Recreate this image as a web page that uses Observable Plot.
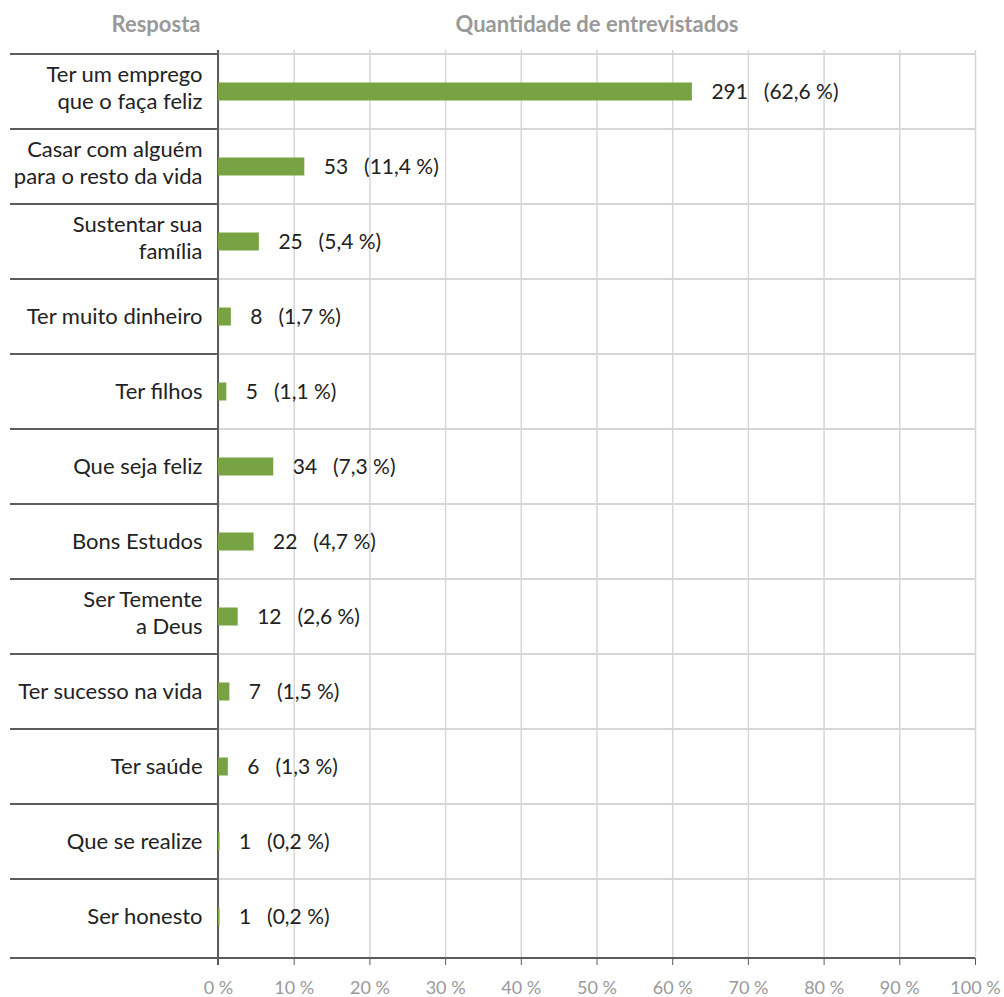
<!DOCTYPE html>
<html>
<head>
<meta charset="utf-8">
<script src="https://cdn.jsdelivr.net/npm/d3@7"></script>
<script src="https://cdn.jsdelivr.net/npm/@observablehq/plot@0.6"></script>
<style>
  html, body { margin: 0; padding: 0; background: #fff; }
</style>
</head>
<body>
<div id="chart"></div>
<script>
// ---- data ----
const categories = [
  "Ter um emprego\nque o faça feliz",
  "Casar com alguém\npara o resto da vida",
  "Sustentar sua\nfamília",
  "Ter muito dinheiro",
  "Ter filhos",
  "Que seja feliz",
  "Bons Estudos",
  "Ser Temente\na Deus",
  "Ter sucesso na vida",
  "Ter saúde",
  "Que se realize",
  "Ser honesto"
];
const counts = [291, 53, 25, 8, 5, 34, 22, 12, 7, 6, 1, 1];
const percents = [62.6, 11.4, 5.4, 1.7, 1.1, 7.3, 4.7, 2.6, 1.5, 1.3, 0.2, 0.2];
const xTicks = [0, 10, 20, 30, 40, 50, 60, 70, 80, 90, 100];
const headerLeft = "Resposta";
const headerRight = "Quantidade de entrevistados";

const rows = categories.map((c, i) => ({cat: c, n: counts[i], pct: percents[i]}));
const fmtPct = v => v.toFixed(1).replace(".", ",");

const dark = "#5c5c5c";
const light = "#d6d6d6";

// custom mark: row separators and axis lines, positioned with Plot's scales
function rowLines(index, scales, values, dimensions) {
  const {width, height, marginLeft, marginRight, marginTop, marginBottom} = dimensions;
  const y = scales.y;
  const xl = marginLeft, xr = width - marginRight, yb = height - marginBottom;
  const bounds = categories.map(c => y(c));
  bounds.push(yb);
  const g = d3.create("svg:g").attr("shape-rendering", "crispEdges");
  bounds.forEach((yy, i) => {
    const last = i === bounds.length - 1;
    g.append("line").attr("x1", 10).attr("x2", xl).attr("y1", yy).attr("y2", yy)
      .attr("stroke", dark).attr("stroke-width", 1.5);
    g.append("line").attr("x1", xl).attr("x2", xr).attr("y1", yy).attr("y2", yy)
      .attr("stroke", last ? dark : light).attr("stroke-width", 1.5);
  });
  g.append("line").attr("x1", xl).attr("x2", xl).attr("y1", marginTop).attr("y2", yb + 7)
    .attr("stroke", dark).attr("stroke-width", 1.5);
  return g.node();
}

const chart = Plot.plot({
  width: 1004,
  height: 997,
  marginLeft: 218,
  marginRight: 29,
  marginTop: 50,
  marginBottom: 39,
  style: {fontFamily: "Lato, 'Open Sans', sans-serif", fontSize: "20px", color: "#222", background: "#fff"},
  x: {domain: [0, 100], axis: null, label: null},
  y: {type: "band", domain: categories, padding: 0, axis: null, label: null},
  marks: [
    Plot.gridX(xTicks, {stroke: light, strokeOpacity: 1, strokeWidth: 1.5}),
    rowLines,
    Plot.barX(rows, {
      x: "pct", y: "cat", fill: "#77a343",
      insetTop: 28.5, insetBottom: 28.5
    }),
    Plot.text(rows, {
      x: "pct", y: "cat",
      text: d => `${d.n}\u2002 (${fmtPct(d.pct)} %)`,
      textAnchor: "start", dx: 19, fill: "#222", fontSize: 21
    }),
    // single-line category labels
    Plot.text(categories, {
      filter: d => !d.includes("\n"),
      y: d => d, text: d => d, frameAnchor: "left",
      textAnchor: "end", dx: -16, fill: "#222", fontSize: 22
    }),
    // two-line category labels
    Plot.text(categories, {
      filter: d => d.includes("\n"),
      y: d => d, text: d => d, frameAnchor: "left",
      textAnchor: "end", dx: -16, dy: -5, lineHeight: 1.22, fill: "#222", fontSize: 22
    }),
    Plot.axisX(xTicks, {
      tickFormat: d => `${d} %`, tickSize: 7, tickPadding: 16, label: null,
      stroke: dark, fill: "#999", fontSize: 18
    }),
    Plot.text([headerLeft], {
      text: d => d, frameAnchor: "top-left", dx: -18, dy: -34,
      textAnchor: "end", fill: "#999", fontWeight: "bold", fontSize: 22
    }),
    Plot.text([headerRight], {
      text: d => d, frameAnchor: "top", dy: -34,
      fill: "#999", fontWeight: "bold", fontSize: 22
    })
  ]
});
document.getElementById("chart").appendChild(chart);
</script>
</body>
</html>
